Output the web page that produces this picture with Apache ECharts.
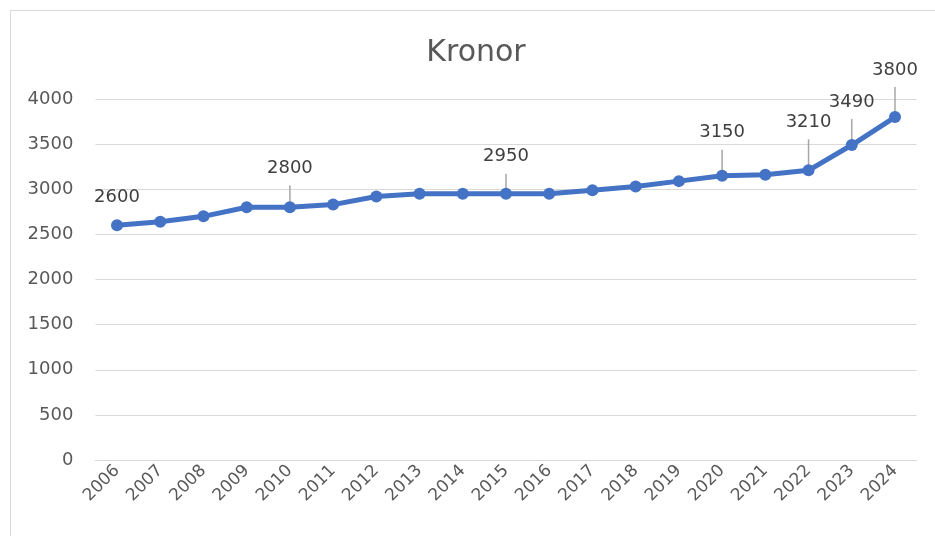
<!DOCTYPE html>
<html>
<head>
<meta charset="utf-8">
<script src="https://cdn.jsdelivr.net/npm/echarts@6/dist/echarts.min.js"></script>
<style>
  html, body { margin: 0; padding: 0; background: #ffffff; overflow: hidden; }
  #frame {
    position: absolute;
    left: 10px;
    top: 10px;
    width: 930px;
    height: 530px;
    border: 1px solid #d9d9d9;
  }
  #chart { width: 930px; height: 530px; }
</style>
</head>
<body>
<div id="frame"><div id="chart"></div></div>
<script>
const years = ["2006", "2007", "2008", "2009", "2010", "2011", "2012", "2013", "2014", "2015",
  "2016", "2017", "2018", "2019", "2020", "2021", "2022", "2023", "2024"];
const kronor = [2600, 2640, 2700, 2800, 2800, 2830, 2920, 2950, 2950, 2950,
  2950, 2990, 3030, 3090, 3150, 3160, 3210, 3490, 3800];
const yTicks = [0, 500, 1000, 1500, 2000, 2500, 3000, 3500, 4000];

// which points get a value label, and how long the leader line is (px)
const labelled = ["2006", "2010", "2015", "2020", "2022", "2023", "2024"];
const leaderLength = [0, 22, 20, 26, 31, 26, 30];

const textColor = "#595959";
const gridColor = "#d9d9d9";
const lineColor = "#4472c4";
const fontFamily = "DejaVu Sans, sans-serif";

const labelData = labelled.map((year, i) => {
  const idx = years.indexOf(year);
  return [idx, kronor[idx], leaderLength[i]];
});

const chart = echarts.init(document.getElementById("chart"), null, { renderer: "canvas" });

chart.setOption({
  animation: false,
  textStyle: { fontFamily },
  title: {
    text: "Kronor",
    left: "center",
    top: 22,
    textStyle: {
      fontFamily,
      fontSize: 30,
      fontWeight: "normal",
      color: textColor,
    },
  },
  grid: {
    left: 84.4,
    right: 24.4,
    top: 88,
    bottom: 81,
    containLabel: false,
  },
  xAxis: {
    type: "category",
    data: years,
    boundaryGap: true,
    axisTick: { show: false },
    axisLine: { lineStyle: { color: gridColor, width: 1 } },
    axisLabel: {
      rotate: 45,
      fontSize: 17,
      color: textColor,
      margin: 8,
      interval: 0,
    },
  },
  yAxis: {
    type: "value",
    min: yTicks[0],
    max: yTicks[yTicks.length - 1],
    interval: 500,
    axisLine: { show: false },
    axisTick: { show: false },
    axisLabel: {
      fontSize: 18,
      color: textColor,
      margin: 22,
      formatter: (v) => String(v),
    },
    splitLine: { lineStyle: { color: gridColor, width: 1 } },
  },
  series: [
    {
      type: "custom",
      z: 1,
      silent: true,
      data: labelData,
      renderItem: (params, api) => {
        const pt = api.coord([api.value(0), api.value(1)]);
        const len = api.value(2);
        const children = [];
        let textY;
        if (len > 0) {
          children.push({
            type: "line",
            shape: { x1: pt[0], y1: pt[1], x2: pt[0], y2: pt[1] - len },
            style: { stroke: "#a6a6a6", lineWidth: 1.5 },
          });
          textY = pt[1] - len - 17;
        } else {
          textY = pt[1] - 28;
        }
        children.push({
          type: "text",
          x: pt[0],
          y: textY,
          style: {
            text: String(api.value(1)),
            fontFamily,
            fontSize: 18,
            fill: "#404040",
            align: "center",
            verticalAlign: "middle",
          },
        });
        return { type: "group", children };
      },
    },
    {
      type: "line",
      z: 3,
      data: kronor,
      symbol: "circle",
      symbolSize: 12,
      lineStyle: { color: lineColor, width: 5 },
      itemStyle: { color: lineColor },
      label: { show: false },
    },
  ],
});
</script>
</body>
</html>
